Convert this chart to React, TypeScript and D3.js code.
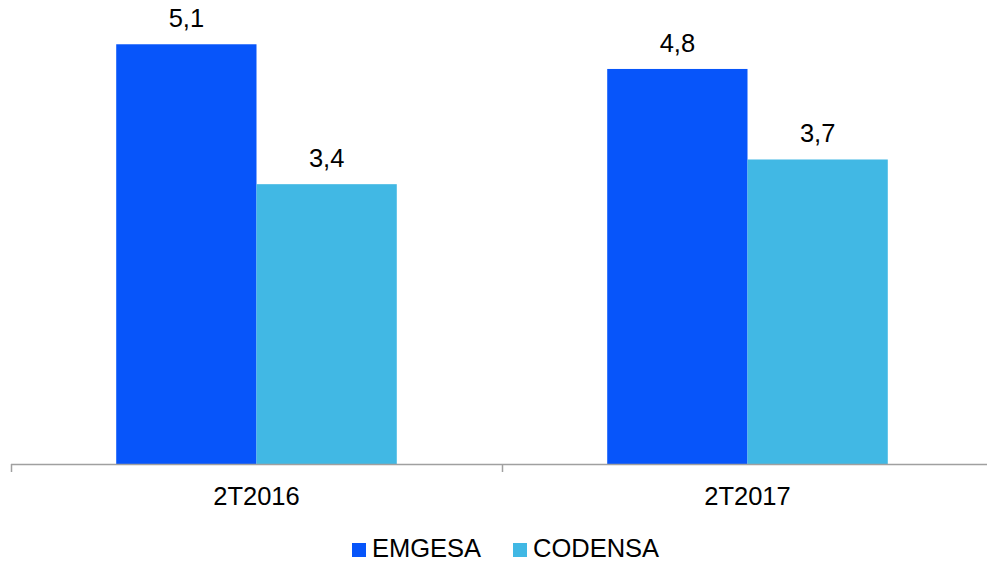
import React from "react";
import * as d3 from "d3";

const categories = ["2T2016", "2T2017"];
const seriesNames = ["EMGESA", "CODENSA"];
const emgesa = [5.1, 4.8];
const codensa = [3.4, 3.7];
const colors = ["#0755FA", "#41B8E4"];

const W = 987;
const H = 564;

export default function App() {
  const x0 = d3.scaleBand().domain(categories).range([11, 993]).paddingInner(0).paddingOuter(0);
  const x1 = d3.scaleBand().domain(seriesNames).range([0, x0.bandwidth()]).paddingInner(0).paddingOuter(0.75);
  const y = d3.scaleLinear().domain([0, 6]).range([464, 464 - 6 * 82.3]);
  const series = [emgesa, codensa];
  const fmt = (v: number) => d3.format(".1f")(v).replace(".", ",");
  const font = "'Liberation Sans', Arial, sans-serif";
  const ticks = [...categories.map((c) => x0(c)!), 993];
  const fs = 25.5;

  return (
    <svg width={W} height={H} style={{ position: "absolute", left: 0, top: 0, background: "#fff" }} fontFamily={font}>
      {categories.map((c, ci) =>
        seriesNames.map((s, si) => {
          const v = series[si][ci];
          const bx = x0(c)! + x1(s)!;
          return (
            <g key={c + s}>
              <rect x={bx} y={y(v)} width={x1.bandwidth()} height={y(0) - y(v)} fill={colors[si]} />
              <text x={bx + x1.bandwidth() / 2} y={y(v) - 17} textAnchor="middle" fontSize={fs} fill="#000">
                {fmt(v)}
              </text>
            </g>
          );
        })
      )}
      <line x1={11} x2={993} y1={y(0) + 0.5} y2={y(0) + 0.5} stroke="#a0a0a0" strokeWidth={1.5} />
      {ticks.map((t, i) => (
        <line key={i} x1={t + 0.5} x2={t + 0.5} y1={y(0)} y2={y(0) + 8} stroke="#a0a0a0" strokeWidth={1.5} />
      ))}
      {categories.map((c) => (
        <text key={c} x={x0(c)! + x0.bandwidth() / 2} y={505} textAnchor="middle" fontSize={fs} fill="#000">
          {c}
        </text>
      ))}
      {seriesNames.map((s, i) => {
        const lx = [352, 513][i];
        return (
          <g key={s}>
            <rect x={lx} y={543} width={14} height={14} fill={colors[i]} />
            <text x={lx + 20} y={557} fontSize={fs} fill="#000">
              {s}
            </text>
          </g>
        );
      })}
    </svg>
  );
}
